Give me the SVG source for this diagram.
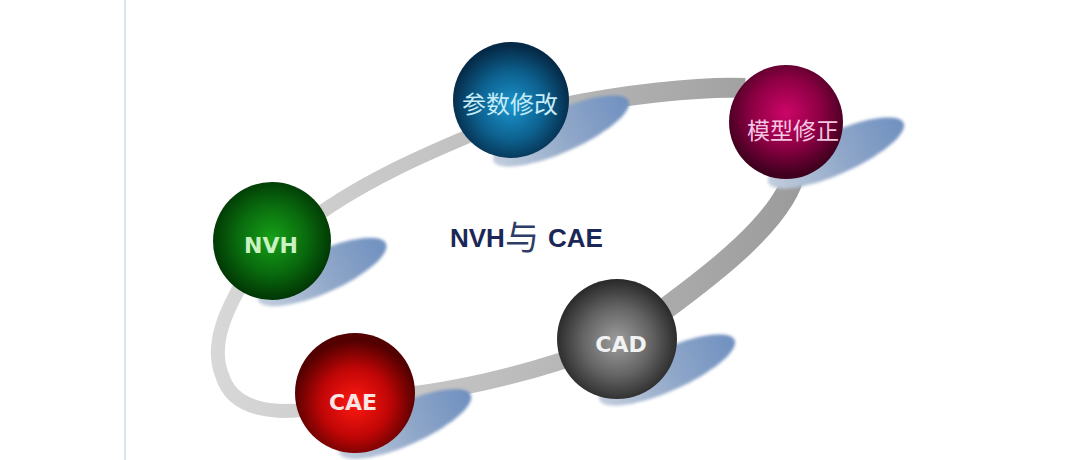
<svg xmlns="http://www.w3.org/2000/svg" width="1080" height="460" viewBox="0 0 1080 460">
  <style>
    .ring { fill: none; stroke: url(#ringGrad); stroke-linecap: butt; stroke-linejoin: round; }
    .shadow { fill: url(#shadowGrad); filter: url(#soft); }
    .cjk { font-family: "Noto Sans CJK SC", "Noto Sans", sans-serif; font-weight: 400; text-anchor: middle; }
    .lat { font-family: "DejaVu Sans", "Liberation Sans", sans-serif; font-weight: 700; text-anchor: middle; font-size: 22px; }
    .title { font-family: "Liberation Sans", Arial, sans-serif; font-weight: 700; font-size: 26px; fill: #1b2756; }
    .titlecjk { font-family: "Noto Sans CJK SC", sans-serif; font-weight: 400; font-size: 34px; fill: #2e3d66; }
  </style>
  <defs>
    <linearGradient id="ringGrad" gradientUnits="userSpaceOnUse" x1="210" y1="0" x2="810" y2="0">
      <stop offset="0" stop-color="#d8d8d8"/>
      <stop offset="0.5" stop-color="#bdbdbd"/>
      <stop offset="1" stop-color="#9a9a9a"/>
    </linearGradient>
    <linearGradient id="shadowGrad" x1="0" y1="0" x2="1" y2="0">
      <stop offset="0" stop-color="#c3cedd"/>
      <stop offset="0.55" stop-color="#8ea6c8"/>
      <stop offset="1" stop-color="#6f90c0"/>
    </linearGradient>
    <filter id="soft" x="-10%" y="-30%" width="120%" height="160%">
      <feGaussianBlur stdDeviation="1.4"/>
    </filter>
    <radialGradient id="gBlue" cx="50%" cy="55%" r="52%">
      <stop offset="0" stop-color="#1b94cc"/>
      <stop offset="0.55" stop-color="#0d6290"/>
      <stop offset="1" stop-color="#052a48"/>
    </radialGradient>
    <radialGradient id="gMag" cx="50%" cy="42%" r="55%">
      <stop offset="0" stop-color="#cc0668"/>
      <stop offset="0.55" stop-color="#8e0044"/>
      <stop offset="1" stop-color="#3e001e"/>
    </radialGradient>
    <radialGradient id="gGreen" cx="50%" cy="48%" r="52%">
      <stop offset="0" stop-color="#18a018"/>
      <stop offset="0.55" stop-color="#096c0e"/>
      <stop offset="1" stop-color="#013604"/>
    </radialGradient>
    <radialGradient id="gRed" cx="50%" cy="58%" r="52%">
      <stop offset="0" stop-color="#ff1a12"/>
      <stop offset="0.55" stop-color="#c00606"/>
      <stop offset="1" stop-color="#520000"/>
    </radialGradient>
    <radialGradient id="gGray" cx="50%" cy="52%" r="52%">
      <stop offset="0" stop-color="#9e9e9e"/>
      <stop offset="0.55" stop-color="#646464"/>
      <stop offset="1" stop-color="#282828"/>
    </radialGradient>
  </defs>

  <rect x="0" y="0" width="1080" height="460" fill="#ffffff"/>
  <line x1="125" y1="0" x2="125" y2="460" stroke="#d9e2ee" stroke-width="2"/>

  <g id="connectors">
    <path class="ring" stroke-width="17" d="M 380 398 C 440 394, 530 375, 600 347 L 650 320"/>
    <path class="ring" stroke-width="22" d="M 650 320 C 690 290, 785 225, 795 170 L 745 88"/>
    <path class="ring" stroke-width="20" d="M 745 88 C 700 86, 620 95, 560 108 L 495 125"/>
    <path class="ring" stroke-width="14" d="M 495 125 C 440 148, 360 180, 300 228 L 250 270"/>
    <path class="ring" stroke-width="14" d="M 250 270 C 225 310, 210 345, 222 375 C 232 410, 275 418, 330 405 L 380 398"/>
  </g>

  <g id="title">
    <text class="title" x="450" y="247">NVH</text>
    <text class="titlecjk" x="505" y="250">与</text>
    <text class="title" x="548" y="247">CAE</text>
  </g>

  <g id="node-param">
    <ellipse class="shadow" cx="561" cy="131" rx="74" ry="21" transform="rotate(-24 561 131)"/>
    <circle cx="511" cy="100" r="58" fill="url(#gBlue)"/>
    <text class="cjk" x="510" y="113" font-size="24" fill="#c6ecf8">参数修改</text>
  </g>

  <g id="node-model">
    <ellipse class="shadow" cx="836" cy="153" rx="74" ry="21" transform="rotate(-24 836 153)"/>
    <circle cx="786" cy="122" r="57" fill="url(#gMag)"/>
    <text class="cjk" x="793" y="139" font-size="23" fill="#f4c6e2">模型修正</text>
  </g>

  <g id="node-nvh">
    <ellipse class="shadow" cx="322" cy="272" rx="70" ry="21" transform="rotate(-24 322 272)"/>
    <circle cx="272" cy="241" r="59" fill="url(#gGreen)"/>
    <text class="lat" x="271" y="253" fill="#c8f2c0">NVH</text>
  </g>

  <g id="node-cae">
    <ellipse class="shadow" cx="405" cy="424" rx="72" ry="21" transform="rotate(-24 405 424)"/>
    <circle cx="355" cy="393" r="60" fill="url(#gRed)"/>
    <text class="lat" x="353" y="410" fill="#fbe4e4">CAE</text>
  </g>

  <g id="node-cad">
    <ellipse class="shadow" cx="667" cy="370" rx="74" ry="21" transform="rotate(-24 667 370)"/>
    <circle cx="617" cy="339" r="60" fill="url(#gGray)"/>
    <text class="lat" x="621" y="352" fill="#f2f2f2">CAD</text>
  </g>
</svg>
